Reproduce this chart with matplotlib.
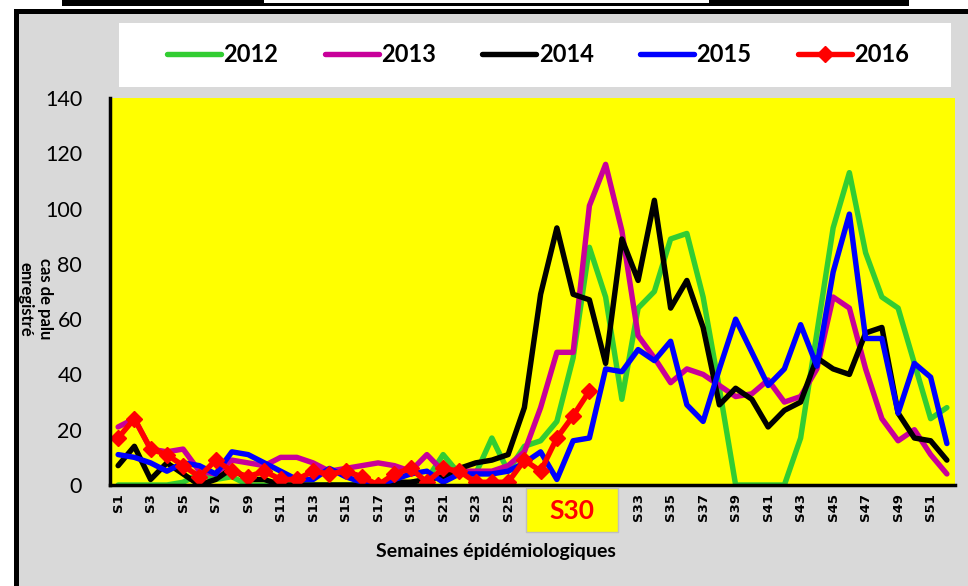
import matplotlib
matplotlib.use("Agg")
import matplotlib.pyplot as plt
from matplotlib.patches import Rectangle

weeks = list(range(1, 53))
y2012 = [0, 0, 0, 0, 1, 4, 2, 3, 0, 0,
         0, 0, 0, 0, 0, 0, 0, 0, 1, 2,
         11, 4, 4, 17, 5, 14, 16, 23, 46, 86,
         68, 31, 64, 70, 89, 91, 68, 35, 0, 0,
         0, 0, 17, 55, 93, 113, 84, 68, 64, 44,
         24, 28]
y2013 = [21, 24, 13, 12, 13, 5, 4, 9, 8, 7,
         10, 10, 8, 5, 6, 7, 8, 7, 5, 11,
         5, 5, 5, 5, 7, 12, 28, 48, 48, 101,
         116, 92, 54, 46, 37, 42, 40, 36, 32, 33,
         38, 30, 32, 42, 68, 64, 42, 24, 16, 20,
         11, 4]
y2014 = [7, 14, 2, 8, 4, 0, 2, 6, 2, 2,
         0, 0, 0, 0, 0, 0, 0, 1, 1, 2,
         3, 6, 8, 9, 11, 28, 69, 93, 69, 67,
         44, 89, 74, 103, 64, 74, 57, 29, 35, 31,
         21, 27, 30, 46, 42, 40, 55, 57, 26, 17,
         16, 9]
y2015 = [11, 10, 8, 5, 8, 7, 4, 12, 11, 8,
         5, 2, 2, 6, 3, 1, 0, 2, 4, 5,
         1, 4, 4, 4, 5, 8, 12, 2, 16, 17,
         42, 41, 49, 45, 52, 29, 23, 42, 60, 48,
         36, 42, 58, 43, 77, 98, 53, 53, 26, 44,
         39, 15]
y2016 = [17, 24, 13, 11, 7, 3, 9, 5, 3, 5,
         2, 2, 5, 4, 5, 3, 0, 4, 6, 1,
         6, 5, 1, 1, 1, 9, 5, 17, 25, 34]
series_labels = ["2012", "2013", "2014", "2015", "2016"]
# odd weeks; S27, S29, S31 are hidden behind the highlighted "S30" box
tick_weeks = [w for w in range(1, 52, 2) if w not in (27, 29, 31)]
tick_labels = ["S%d" % w for w in tick_weeks]
highlight_label = "S30"
yticks = list(range(0, 141, 20))

W, H = 968, 586
fig = plt.figure(figsize=(W / 100, H / 100), dpi=100)
fig.patch.set_facecolor("white")

def fx(x):
    return x / W

def fy(y):
    return 1 - y / H

# top bar
fig.add_artist(Rectangle((fx(62), fy(6)), fx(909) - fx(62), fy(0) - fy(6),
                         transform=fig.transFigure, facecolor="black", edgecolor="none", zorder=-3))
fig.add_artist(Rectangle((fx(264), fy(3)), fx(709) - fx(264), fy(0) - fy(3),
                         transform=fig.transFigure, facecolor="white", edgecolor="none", zorder=-2))
# frame
fig.add_artist(Rectangle((fx(14), 0), 1 - fx(14), fy(9),
                         transform=fig.transFigure, facecolor="black", edgecolor="none", zorder=-3))
fig.add_artist(Rectangle((fx(19), 0), 1 - fx(19), fy(14),
                         transform=fig.transFigure, facecolor="#D9D9D9", edgecolor="none", zorder=-2))
# legend box
fig.add_artist(Rectangle((fx(119), fy(87)), fx(951) - fx(119), fy(23) - fy(87),
                         transform=fig.transFigure, facecolor="white", edgecolor="none", zorder=-1))

ax = fig.add_axes([fx(110), fy(485), fx(955) - fx(110), fy(98) - fy(485)])
ax.set_facecolor("#FFFF00")

lw = 3.9
kw = dict(linewidth=lw, solid_capstyle="round", solid_joinstyle="round")
l1, = ax.plot(weeks, y2012, color="#32CD32", **kw)
l2, = ax.plot(weeks, y2013, color="#C8009A", **kw)
l3, = ax.plot(weeks, y2014, color="black", **kw)
l4, = ax.plot(weeks, y2015, color="#0000FF", **kw)
l5, = ax.plot(weeks[:len(y2016)], y2016, color="#FF0000", marker="D", markersize=8.5,
              markeredgecolor="#FF0000", **kw)

ax.set_xlim(0.5, 52.5)
ax.set_ylim(0, 140)
ax.set_yticks(yticks)
ax.set_yticklabels([str(v) for v in yticks], fontfamily="Lato", fontsize=15.5)
ax.set_xticks(tick_weeks)
ax.set_xticklabels(tick_labels, rotation=90, fontfamily="DejaVu Sans",
                   fontweight="bold", fontsize=9.5)
ax.tick_params(axis="y", length=0, pad=20)
ax.tick_params(axis="x", length=0, pad=6)
for s in ["top", "right"]:
    ax.spines[s].set_visible(False)
for s in ["left", "bottom"]:
    ax.spines[s].set_linewidth(2.5)
    ax.spines[s].set_color("black")

# legend
fig.legend([l1, l2, l3, l4, l5], series_labels, ncol=5, loc="center",
           bbox_to_anchor=(fx(538), fy(55)), frameon=False,
           prop={"family": "Lato", "weight": "bold", "size": 17},
           handlelength=2.3, handletextpad=0.1, columnspacing=1.95)

# axis titles
fig.text(fx(35), fy(299), "cas de palu\nenregistré", rotation=270, ha="center",
         va="center", multialignment="center", fontfamily="Lato", fontweight="bold",
         fontsize=12, linespacing=1.3)
fig.text(fx(496), fy(552), "Semaines épidémiologiques", ha="center", va="center",
         fontfamily="Lato", fontweight="bold", fontsize=14)

# S30 highlight box
fig.add_artist(Rectangle((fx(526), fy(532)), fx(618) - fx(526), fy(488) - fy(532),
                         transform=fig.transFigure, facecolor="#FFFF00",
                         edgecolor="#BFBFBF", linewidth=1, zorder=5))
fig.text(fx(572), fy(511), highlight_label, ha="center", va="center", color="#FF0000",
         fontfamily="Lato", fontweight="bold", fontsize=19, zorder=6)

fig.savefig("out.png", dpi=100)
